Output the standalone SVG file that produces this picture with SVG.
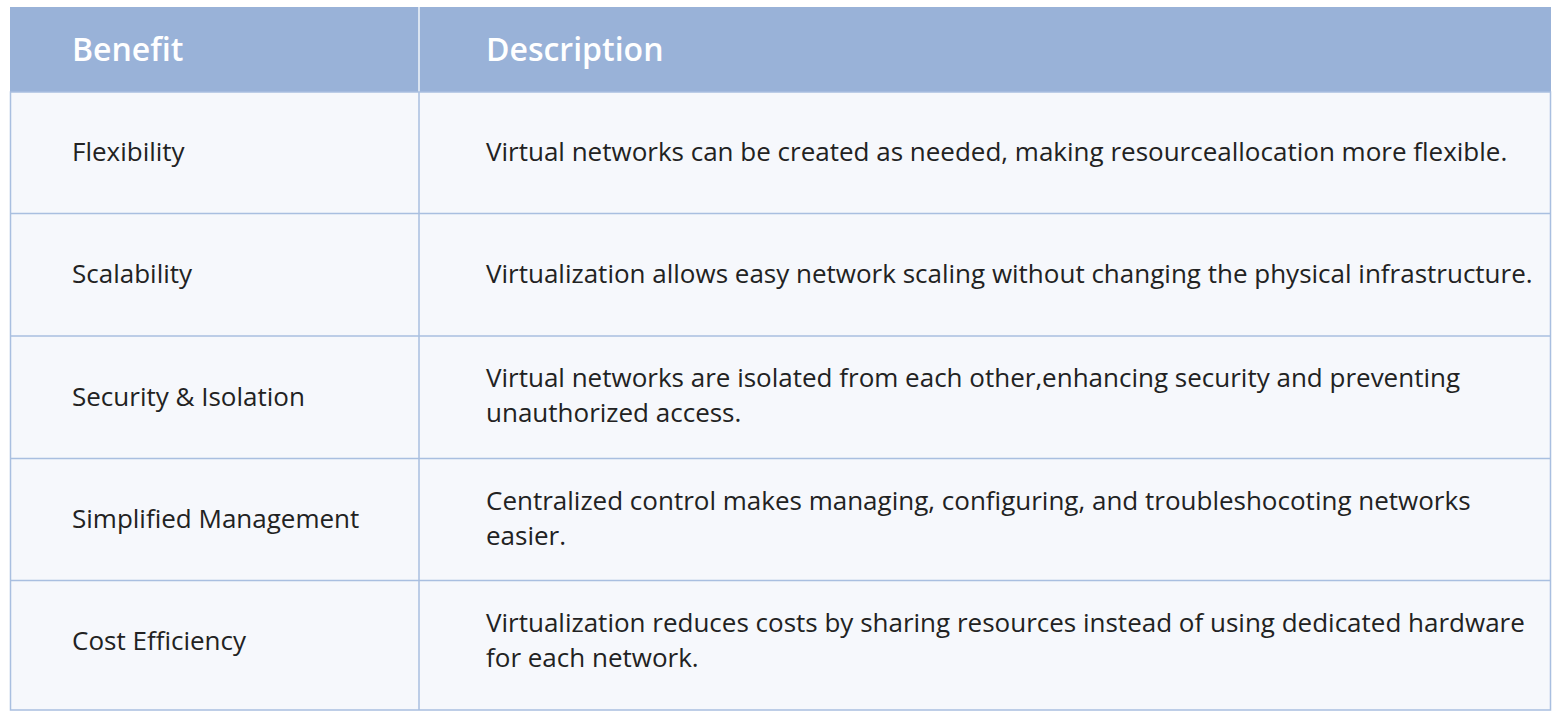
<svg xmlns="http://www.w3.org/2000/svg" width="1561" height="718" viewBox="0 0 1561 718">
<style>
.hd{font-family:"Open Sans","Noto Sans",sans-serif;font-size:32px;font-weight:600;fill:#ffffff}
.tx{font-family:"Open Sans","Noto Sans",sans-serif;font-size:26px;fill:#222222}
.cell{fill:#f6f8fc}
.ln{stroke:#a9bfe0;stroke-width:1.5;fill:none}
</style>
<rect x="0" y="0" width="1561" height="718" fill="#ffffff"/>
<g id="header">
<rect x="10" y="7" width="1541" height="85" fill="#99b2d8"/>
<line x1="419" y1="7" x2="419" y2="92" stroke="#f0f4fa" stroke-width="1.5"/>
<text class="hd" x="72" y="61">Benefit</text>
<text class="hd" x="486" y="61">Description</text>
</g>
<g id="body">
<rect class="cell" x="10" y="92" width="1541" height="618"/>
</g>
<g id="grid">
<rect class="ln" x="10.5" y="92" width="1540" height="618"/>
<line class="ln" x1="419" y1="92" x2="419" y2="710"/>
<line class="ln" x1="10" y1="213.5" x2="1551" y2="213.5"/>
<line class="ln" x1="10" y1="336" x2="1551" y2="336"/>
<line class="ln" x1="10" y1="458.5" x2="1551" y2="458.5"/>
<line class="ln" x1="10" y1="580.5" x2="1551" y2="580.5"/>
</g>
<g id="row1">
<text class="tx" x="72" y="161">Flexibility</text>
<text class="tx" x="486" y="161">Virtual networks can be created as needed, making resourceallocation more flexible.</text>
</g>
<g id="row2">
<text class="tx" x="72" y="283">Scalability</text>
<text class="tx" x="486" y="283">Virtualization allows easy network scaling without changing the physical infrastructure.</text>
</g>
<g id="row3">
<text class="tx" x="72" y="406">Security &amp; Isolation</text>
<text class="tx" x="486" y="387">Virtual networks are isolated from each other,enhancing security and preventing</text>
<text class="tx" x="486" y="422">unauthorized access.</text>
</g>
<g id="row4">
<text class="tx" x="72" y="528">Simplified Management</text>
<text class="tx" x="486" y="510">Centralized control makes managing, configuring, and troubleshocoting networks</text>
<text class="tx" x="486" y="545">easier.</text>
</g>
<g id="row5">
<text class="tx" x="72" y="650">Cost Efficiency</text>
<text class="tx" x="486" y="632">Virtualization reduces costs by sharing resources instead of using dedicated hardware</text>
<text class="tx" x="486" y="667">for each network.</text>
</g>
</svg>
